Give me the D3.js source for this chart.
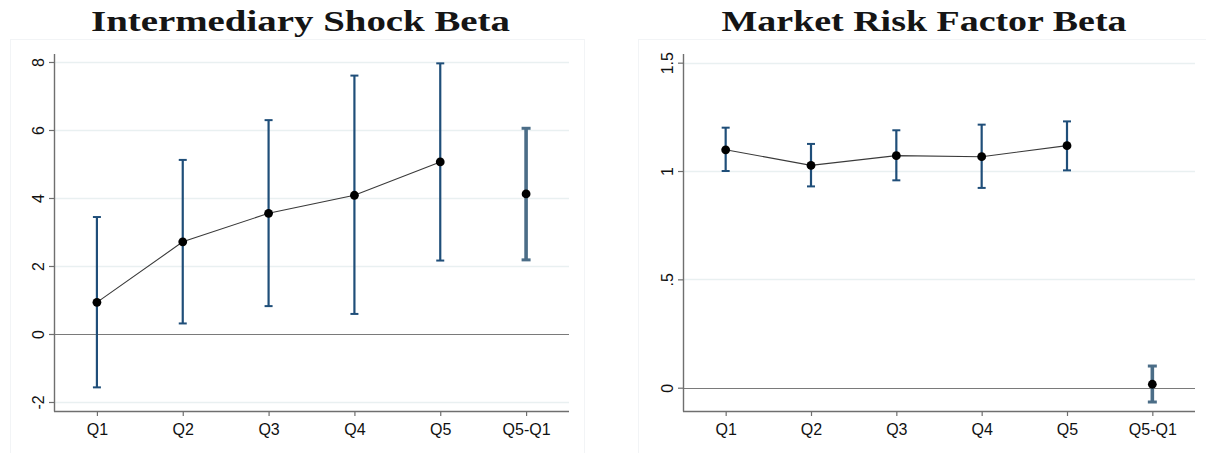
<!DOCTYPE html>
<html>
<head>
<meta charset="utf-8">
<script src="https://cdn.jsdelivr.net/npm/d3@7"></script>
<style>
  html, body { margin: 0; padding: 0; background: #fff; }
  svg { display: block; }
</style>
</head>
<body>
<svg id="chart" width="1206" height="453"></svg>
<script>
// Portfolio quintiles and the high-minus-low spread
const categories = ["Q1", "Q2", "Q3", "Q4", "Q5", "Q5-Q1"];

// Intermediary shock beta: point estimate and 95% interval bounds
const interEst = [0.93, 2.71, 3.55, 4.08, 5.06, 4.12];
const interLo  = [-1.57, 0.31, 0.82, 0.59, 2.16, 2.18];
const interHi  = [3.44, 5.12, 6.29, 7.60, 7.96, 6.05];
const interTicks = [-2, 0, 2, 4, 6, 8];
const interTickLabels = ["-2", "0", "2", "4", "6", "8"];

// Market risk factor beta: point estimate and 95% interval bounds
const mktEst = [1.098, 1.026, 1.071, 1.066, 1.117, 0.016];
const mktLo  = [1.000, 0.929, 0.957, 0.922, 1.003, -0.066];
const mktHi  = [1.200, 1.125, 1.188, 1.214, 1.229, 0.100];
const mktTicks = [0, 0.5, 1, 1.5];
const mktTickLabels = ["0", ".5", "1", "1.5"];

const svg = d3.select("#chart");
const labelFont = "Liberation Sans, Arial, sans-serif";

function drawPanel(opt) {
  const g = svg.append("g");

  // faint graph-region frame
  g.append("rect")
    .attr("x", opt.frame[0] + 0.5).attr("y", opt.frame[1] + 0.5)
    .attr("width", opt.frame[2]).attr("height", opt.frame[3])
    .attr("fill", "none").attr("stroke", "#f2f4f6").attr("stroke-width", 1);

  const x = d3.scalePoint().domain(categories)
    .range([opt.left, opt.right]).padding(0.5);
  const y = d3.scaleLinear().domain(opt.yDomain).range([opt.bottom, opt.top]);

  // grid lines
  g.append("g").selectAll("line")
    .data(opt.ticks.filter(t => t !== 0))
    .join("line")
    .attr("x1", opt.left).attr("x2", opt.right)
    .attr("y1", d => Math.round(y(d)) + 0.5).attr("y2", d => Math.round(y(d)) + 0.5)
    .attr("stroke", "#e9f0f1").attr("stroke-width", 1.4);

  // zero reference line
  g.append("line")
    .attr("x1", opt.left).attr("x2", opt.right)
    .attr("y1", Math.round(y(0)) + 0.5).attr("y2", Math.round(y(0)) + 0.5)
    .attr("stroke", "#7a7a7a").attr("stroke-width", 1.2);

  // y axis
  const yAxis = d3.axisLeft(y)
    .tickValues(opt.ticks)
    .tickFormat((d, i) => opt.tickLabels[i])
    .tickSize(5).tickPadding(4).tickSizeOuter(0);
  const ya = g.append("g").attr("transform", `translate(${opt.left},0)`).call(yAxis);
  ya.attr("font-size", 16).attr("font-family", labelFont);
  ya.select(".domain").remove();
  ya.selectAll(".tick line").attr("stroke", "#6f6f6f").attr("stroke-width", 1.2);
  ya.selectAll(".tick text")
    .attr("fill", "#111")
    .attr("x", null).attr("dy", null)
    .attr("text-anchor", "middle")
    .attr("transform", `translate(${-10.5},0) rotate(-90)`);

  // x axis
  const xAxis = d3.axisBottom(x).tickSize(5).tickPadding(8).tickSizeOuter(0);
  const xa = g.append("g").attr("transform", `translate(0,${opt.bottom})`).call(xAxis);
  xa.attr("font-size", 16).attr("font-family", labelFont);
  xa.select(".domain").remove();
  xa.selectAll(".tick line").attr("stroke", "#6f6f6f").attr("stroke-width", 1.2);
  xa.selectAll(".tick text").attr("fill", "#111");

  // axis lines
  g.append("line")
    .attr("x1", opt.left + 0.5).attr("x2", opt.left + 0.5)
    .attr("y1", opt.top).attr("y2", opt.bottom + 0.5)
    .attr("stroke", "#6f6f6f").attr("stroke-width", 1.4);
  g.append("line")
    .attr("x1", opt.left).attr("x2", opt.right)
    .attr("y1", opt.bottom + 0.5).attr("y2", opt.bottom + 0.5)
    .attr("stroke", "#6f6f6f").attr("stroke-width", 1.4);

  const rows = categories.map((c, i) => ({
    c, est: opt.est[i], lo: opt.lo[i], hi: opt.hi[i], spread: c === "Q5-Q1"
  }));

  // confidence intervals
  const ci = g.append("g").selectAll("g").data(rows).join("g")
    .attr("stroke", d => d.spread ? "#4b6d87" : "#1f4e79");
  ci.append("line")
    .attr("x1", d => x(d.c)).attr("x2", d => x(d.c))
    .attr("y1", d => y(d.lo)).attr("y2", d => y(d.hi))
    .attr("stroke-width", d => d.spread ? 3.6 : 2.2);
  ci.append("line")
    .attr("x1", d => x(d.c) - (d.spread ? 4.5 : 4)).attr("x2", d => x(d.c) + (d.spread ? 4.5 : 4))
    .attr("y1", d => y(d.hi)).attr("y2", d => y(d.hi))
    .attr("stroke-width", d => d.spread ? 3 : 2);
  ci.append("line")
    .attr("x1", d => x(d.c) - (d.spread ? 4.5 : 4)).attr("x2", d => x(d.c) + (d.spread ? 4.5 : 4))
    .attr("y1", d => y(d.lo)).attr("y2", d => y(d.lo))
    .attr("stroke-width", d => d.spread ? 3 : 2);

  // connecting line across the quintiles
  const line = d3.line().x(d => x(d.c)).y(d => y(d.est));
  g.append("path")
    .datum(rows.filter(d => !d.spread))
    .attr("d", line)
    .attr("fill", "none").attr("stroke", "#3a3a3a").attr("stroke-width", 1.1);

  // point estimates
  g.append("g").selectAll("circle").data(rows).join("circle")
    .attr("cx", d => x(d.c)).attr("cy", d => y(d.est))
    .attr("r", 4.4).attr("fill", "#000");

  // title
  g.append("text")
    .attr("x", opt.titleX).attr("y", 31)
    .attr("text-anchor", "middle")
    .attr("font-family", "Liberation Serif, Times New Roman, serif")
    .attr("font-weight", "bold").attr("font-size", 29)
    .attr("textLength", opt.titleWidth).attr("lengthAdjust", "spacingAndGlyphs")
    .attr("fill", "#151515")
    .text(opt.title);
}

drawPanel({
  title: "Intermediary Shock Beta", titleX: 300.5, titleWidth: 419,
  frame: [10, 39, 574, 430],
  left: 54, right: 569, top: 54, bottom: 411,
  yDomain: [-2.265, 8.235],
  ticks: interTicks, tickLabels: interTickLabels,
  est: interEst, lo: interLo, hi: interHi
});

drawPanel({
  title: "Market Risk Factor Beta", titleX: 924, titleWidth: 405,
  frame: [638, 39, 580, 430],
  left: 683, right: 1195, top: 54, bottom: 411,
  yDomain: [-0.1075, 1.54],
  ticks: mktTicks, tickLabels: mktTickLabels,
  est: mktEst, lo: mktLo, hi: mktHi
});
</script>
</body>
</html>
